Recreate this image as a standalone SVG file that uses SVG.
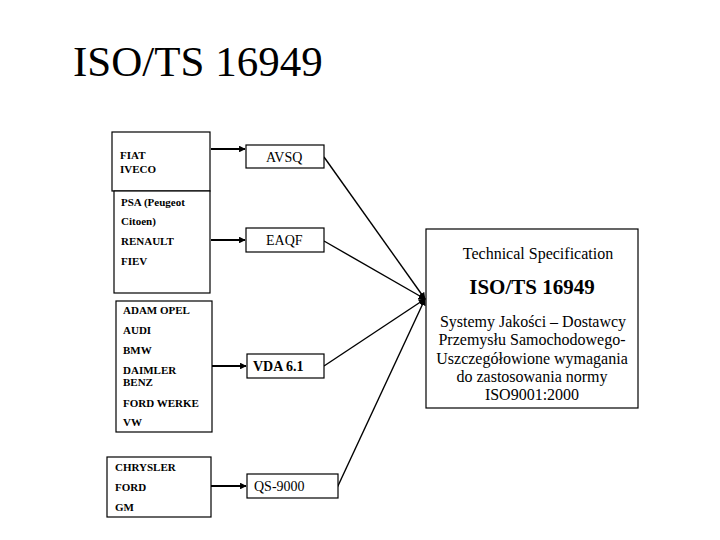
<svg xmlns="http://www.w3.org/2000/svg" width="720" height="540" viewBox="0 0 720 540">
<defs>
<style>
.box{fill:#fff;stroke:#000;stroke-width:1.2}
.lbl{font-family:'Liberation Serif','Times New Roman',serif;font-size:11px;font-weight:bold;fill:#000}
.std{font-family:'Liberation Serif','Times New Roman',serif;fill:#000}
.con{stroke:#000;fill:none}
.thick{stroke-width:2.2}
.thin{stroke-width:1.4}
</style>
<marker id="ah" viewBox="0 0 10 10" refX="9" refY="5" markerWidth="3" markerHeight="3" orient="auto" markerUnits="strokeWidth">
<path d="M0,0 L10,5 L0,10 z" fill="#000"/>
</marker>
<marker id="ah2" viewBox="0 0 10 10" refX="9" refY="5" markerWidth="5" markerHeight="5" orient="auto" markerUnits="strokeWidth">
<path d="M0,0 L10,5 L0,10 z" fill="#000"/>
</marker>
</defs>
<rect width="720" height="540" fill="#fff"/>
<text x="73" y="76" font-family="'Liberation Serif','Times New Roman',serif" font-size="43" fill="#000">ISO/TS 16949</text>

<g id="connectors">
<line class="con thick" x1="211" y1="149" x2="245" y2="149" marker-end="url(#ah)"/>
<line class="con thick" x1="211" y1="240" x2="245" y2="240" marker-end="url(#ah)"/>
<line class="con thick" x1="212" y1="366" x2="246" y2="366" marker-end="url(#ah)"/>
<line class="con thick" x1="211" y1="486" x2="246" y2="486" marker-end="url(#ah)"/>
<line class="con thin" x1="324" y1="157" x2="425" y2="299" marker-end="url(#ah2)"/>
<line class="con thin" x1="324" y1="241" x2="425" y2="299" marker-end="url(#ah2)"/>
<line class="con thin" x1="324" y1="366" x2="425" y2="299" marker-end="url(#ah2)"/>
<line class="con thin" x1="337" y1="488" x2="425" y2="299" marker-end="url(#ah2)"/>
</g>

<g id="fiat">
<rect class="box" x="112" y="132" width="98" height="59"/>
<text class="lbl" x="120" y="159">FIAT</text>
<text class="lbl" x="120" y="173">IVECO</text>
</g>
<g id="psa">
<rect class="box" x="114" y="191" width="96" height="102"/>
<text class="lbl" x="121" y="206">PSA (Peugeot</text>
<text class="lbl" x="121" y="225">Citoen)</text>
<text class="lbl" x="121" y="245">RENAULT</text>
<text class="lbl" x="121" y="265">FIEV</text>
</g>
<g id="german">
<rect class="box" x="116" y="301" width="96" height="131"/>
<text class="lbl" x="123" y="314">ADAM OPEL</text>
<text class="lbl" x="123" y="334">AUDI</text>
<text class="lbl" x="123" y="354">BMW</text>
<text class="lbl" x="123" y="374">DAIMLER</text>
<text class="lbl" x="123" y="386">BENZ</text>
<text class="lbl" x="123" y="407">FORD WERKE</text>
<text class="lbl" x="123" y="426">VW</text>
</g>
<g id="us">
<rect class="box" x="107" y="457" width="104" height="60"/>
<text class="lbl" x="115" y="471">CHRYSLER</text>
<text class="lbl" x="115" y="491">FORD</text>
<text class="lbl" x="115" y="511">GM</text>
</g>

<g id="avsq">
<rect class="box" x="246" y="145" width="78" height="23"/>
<text class="std" x="266" y="162" font-size="14">AVSQ</text>
</g>
<g id="eaqf">
<rect class="box" x="246" y="228" width="78" height="24"/>
<text class="std" x="266" y="245" font-size="14">EAQF</text>
</g>
<g id="vda">
<rect class="box" x="247" y="354" width="77" height="24"/>
<text class="std" x="253" y="371" font-size="14" font-weight="bold">VDA 6.1</text>
</g>
<g id="qs">
<rect class="box" x="247" y="474" width="91" height="24"/>
<text class="std" x="254" y="491" font-size="14">QS-9000</text>
</g>

<g id="isots" text-anchor="middle">
<rect class="box" x="426" y="229" width="212" height="179"/>
<text class="std" x="538" y="259" font-size="16">Technical Specification</text>
<text class="std" x="532" y="294" font-size="21" font-weight="bold">ISO/TS 16949</text>
<text class="std" x="533" y="327" font-size="16">Systemy Jakości – Dostawcy</text>
<text class="std" x="532" y="345" font-size="16">Przemysłu Samochodowego-</text>
<text class="std" x="532" y="364" font-size="16">Uszczegółowione wymagania</text>
<text class="std" x="532" y="382" font-size="16">do zastosowania normy</text>
<text class="std" x="532" y="400" font-size="16">ISO9001:2000</text>
</g>
</svg>
